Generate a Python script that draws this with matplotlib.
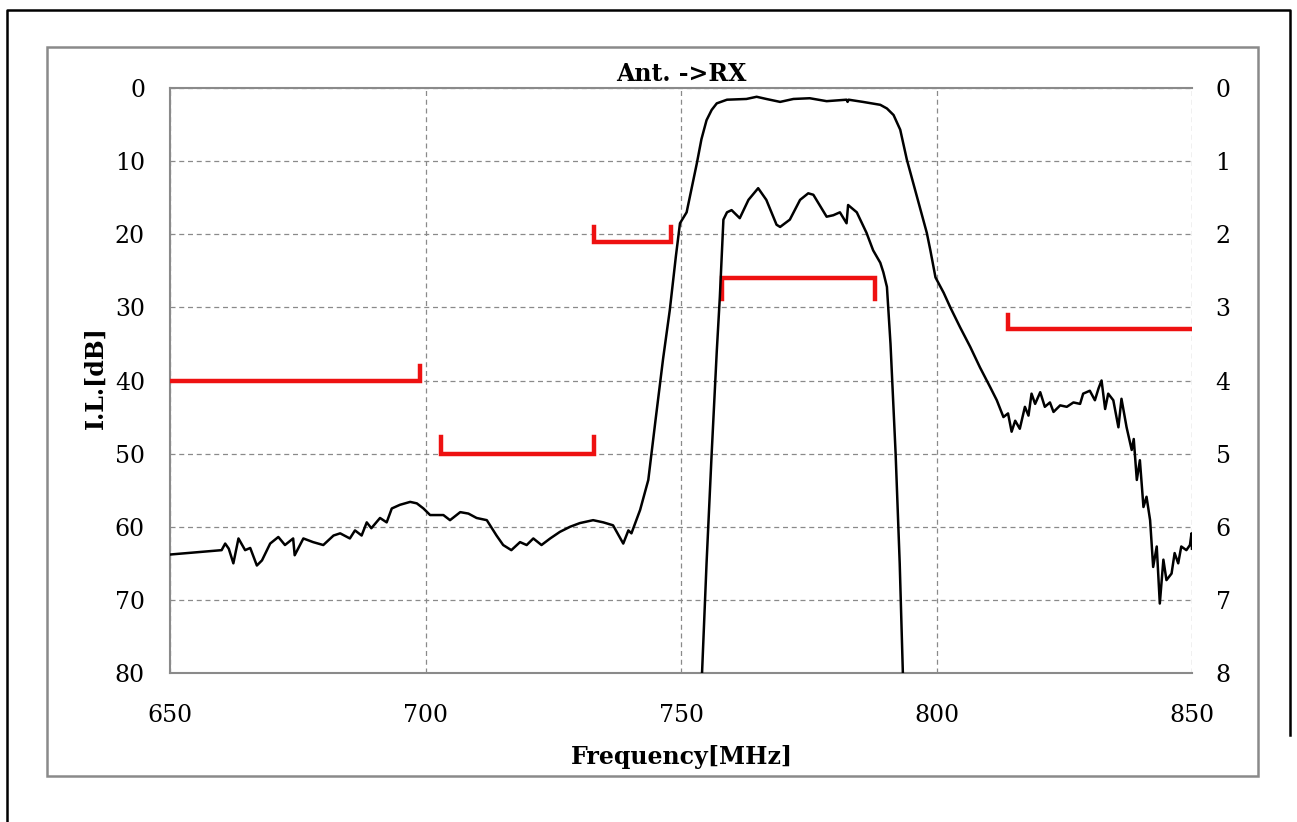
import matplotlib
matplotlib.use("Agg")
import matplotlib.pyplot as plt
from matplotlib.patches import Rectangle
from matplotlib.lines import Line2D

# Ant. -> RX  wide sweep (left axis, dB)
freq_wide = [650.0, 660.1, 660.8, 661.5, 662.4, 663.4, 664.7, 665.7, 667.0, 668.0,
             669.6, 671.2, 672.5, 674.1, 674.4, 676.1, 678.0, 680.0, 682.0, 683.3,
             685.2, 686.2, 687.5, 688.5, 689.4, 691.1, 692.4, 693.4, 695.0, 697.0,
             698.3, 699.6, 700.9, 703.5, 704.8, 706.8, 708.4, 710.0, 712.0, 713.9,
             715.2, 716.8, 718.5, 719.8, 721.1, 722.7, 724.4, 726.3, 728.3, 730.2,
             732.8, 734.8, 736.7, 738.7, 739.7, 740.3, 742.0, 743.6, 745.0, 746.5,
             747.8, 749.0, 749.8, 751.1, 752.0, 753.1, 754.0, 755.0, 756.0, 757.0,
             759.0, 762.8, 764.8, 766.7, 769.4, 772.0, 775.2, 778.5, 782.4, 782.6,
             782.8, 785.6, 789.0, 790.3, 791.6, 792.9, 794.2, 796.2, 798.1, 798.8,
             799.8, 801.4, 802.7, 804.6, 806.6, 808.5, 810.5, 811.8, 813.1, 814.0,
             814.7, 815.4, 816.3, 817.3, 818.0, 818.6, 819.3, 820.3, 821.2, 822.2,
             822.9, 824.2, 825.5, 826.8, 828.1, 828.7, 830.0, 831.0, 831.7, 832.3,
             833.0, 833.6, 834.6, 835.6, 836.2, 837.2, 838.2, 838.6, 839.2, 839.8,
             840.5, 841.1, 841.8, 842.4, 843.1, 843.7, 844.4, 845.0, 846.0, 846.6,
             847.3, 847.9, 848.9, 849.6, 849.9, 850.0]
il_wide = [63.8, 63.2, 62.3, 63.0, 65.0, 61.6, 63.2, 62.9, 65.3, 64.6,
           62.3, 61.4, 62.5, 61.6, 63.9, 61.6, 62.1, 62.5, 61.2, 60.9,
           61.6, 60.5, 61.2, 59.4, 60.2, 58.8, 59.4, 57.5, 57.0, 56.6,
           56.8, 57.5, 58.4, 58.4, 59.1, 58.0, 58.2, 58.8, 59.1, 61.2,
           62.5, 63.2, 62.1, 62.5, 61.6, 62.5, 61.6, 60.7, 60.0, 59.5,
           59.1, 59.4, 59.8, 62.3, 60.5, 60.9, 57.7, 53.6, 45.5, 37.0,
           30.4, 23.0, 18.5, 17.0, 14.0, 10.3, 7.0, 4.4, 3.0, 2.1,
           1.6, 1.5, 1.2, 1.5, 1.9, 1.5, 1.4, 1.8, 1.6, 1.9,
           1.6, 1.9, 2.3, 2.8, 3.7, 5.7, 9.8, 14.9, 19.8, 22.2,
           25.9, 28.0, 30.0, 32.7, 35.4, 38.2, 40.9, 42.7, 45.0, 44.5,
           47.0, 45.5, 46.6, 43.6, 44.8, 41.8, 43.2, 41.6, 43.6, 43.0,
           44.3, 43.4, 43.6, 43.0, 43.2, 41.8, 41.4, 42.7, 41.1, 40.0,
           43.9, 41.8, 42.7, 46.4, 42.5, 46.4, 49.5, 48.0, 53.6, 50.9,
           57.3, 55.9, 59.1, 65.5, 62.7, 70.5, 64.5, 67.3, 66.4, 63.6,
           65.0, 62.7, 63.2, 62.5, 60.9, 63.0]

# passband zoom (right axis, dB)
freq_pass = [754.0, 755.0, 756.0, 757.0, 757.6, 758.3, 759.0, 759.9, 761.5, 763.2,
             765.1, 766.7, 768.7, 769.4, 771.3, 773.3, 774.9, 775.9, 778.5, 779.8,
             781.1, 782.4, 782.7, 784.4, 786.3, 787.6, 789.0, 789.6, 790.3, 791.0,
             792.0, 792.8, 793.5]
il_pass = [8.2, 6.5, 5.0, 3.6, 2.86, 1.80, 1.70, 1.67, 1.78, 1.53,
           1.37, 1.53, 1.87, 1.90, 1.80, 1.53, 1.44, 1.46, 1.76, 1.74,
           1.70, 1.85, 1.60, 1.70, 1.98, 2.22, 2.39, 2.52, 2.72, 3.5,
           5.0, 6.5, 8.2]

# spec masks (freq, dB)
mask1_f = [650, 699, 699]
mask1_db = [40, 40, 38]
mask2_f = [703, 703, 733, 733]
mask2_db = [47.7, 50, 50, 47.7]
mask3_f = [733, 733, 748, 748]
mask3_db = [19, 21, 21, 19]
mask4_f = [758, 758, 788, 788]
mask4_db = [28.8, 26, 26, 28.8]
mask5_f = [814, 814, 850]
mask5_db = [31, 33, 33]

xticks = [650, 700, 750, 800, 850]
yticks_left = [0, 10, 20, 30, 40, 50, 60, 70, 80]
yticks_right = [0, 1, 2, 3, 4, 5, 6, 7, 8]

plt.rcParams["font.family"] = ["DejaVu Serif"]
grey = "#8a8a8a"

fig = plt.figure(figsize=(12.97, 8.22), dpi=100)
ax = fig.add_axes([170 / 1297, 1 - 673 / 822, 1022 / 1297, 585 / 822])
ax2 = ax.twinx()

ax.set_xlim(650, 850)
ax.set_ylim(80, 0)
ax2.set_ylim(8, 0)
ax.set_xticks(xticks)
ax.set_yticks(yticks_left)
ax2.set_yticks(yticks_right)

ax.grid(True, linestyle=(0, (4, 3)), color=grey, linewidth=0.9)
ax.set_axisbelow(True)
for s in ["left", "bottom", "top"]:
    ax.spines[s].set_color(grey)
    ax.spines[s].set_linewidth(1.5)
ax.spines["right"].set_visible(False)
for s in ax2.spines.values():
    s.set_visible(False)

ax.tick_params(axis="y", length=0, pad=18, labelsize=17)
ax.tick_params(axis="x", length=0, pad=22, labelsize=17)
ax2.tick_params(axis="y", length=0, pad=17, labelsize=17)

red = "#ee1111"
for mf, md in [(mask1_f, mask1_db), (mask2_f, mask2_db), (mask3_f, mask3_db),
               (mask4_f, mask4_db), (mask5_f, mask5_db)]:
    ax.plot(mf, md, color=red, linewidth=3.2, solid_joinstyle="miter", zorder=3)

ax.plot(freq_wide, il_wide, color="black", linewidth=1.8, zorder=4)
ax2.plot(freq_pass, il_pass, color="black", linewidth=1.8, zorder=4)

ax.set_title("Ant. ->RX", fontsize=17, fontweight="bold", pad=5)
fig.text(681.5 / 1297, 1 - 757 / 822, "Frequency[MHz]", fontsize=17,
         fontweight="bold", ha="center", va="center")
fig.text(96 / 1297, 1 - 378 / 822, "I.L.[dB]", fontsize=17, fontweight="bold",
         ha="center", va="center", rotation=90)

# inner grey frame and outer black border
fig.add_artist(Rectangle((47 / 1297, 1 - 776 / 822), 1211 / 1297, 729 / 822,
                         transform=fig.transFigure, fill=False,
                         edgecolor=grey, linewidth=1.8))
fig.add_artist(Line2D([7 / 1297, 7 / 1297, 1290 / 1297, 1290 / 1297],
                      [0, 1 - 10 / 822, 1 - 10 / 822, 1 - 735 / 822],
                      transform=fig.transFigure, color="black", linewidth=1.8))

fig.savefig("out.png", dpi=100)
